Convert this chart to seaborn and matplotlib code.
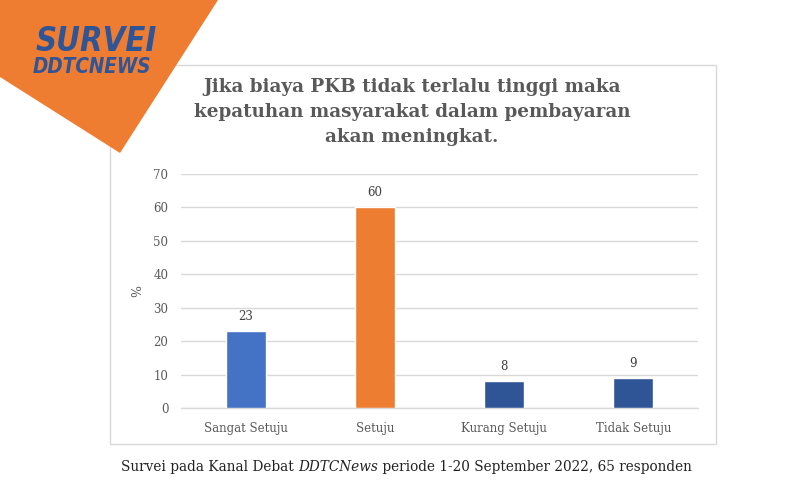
import matplotlib
matplotlib.use("Agg")
import matplotlib.pyplot as plt
import seaborn as sns
import pandas as pd
from matplotlib.patches import Polygon, Rectangle

categories = ["Sangat Setuju", "Setuju", "Kurang Setuju", "Tidak Setuju"]
values = [23, 60, 8, 9]
bar_colors = ["#4472C4", "#ED7D31", "#2F5597", "#2F5597"]
yticks = [0, 10, 20, 30, 40, 50, 60, 70]
title = "Jika biaya PKB tidak terlalu tinggi maka\nkepatuhan masyarakat dalam pembayaran\nakan meningkat."

sns.set_theme(style="white")
plt.rcParams['font.family'] = ['DejaVu Serif']

W, H = 802, 504
fig = plt.figure(figsize=(W / 100, H / 100), dpi=100)
fig.patch.set_facecolor("white")

def fx(x): return x / W
def fy(y): return 1 - y / H

# chart frame
frame = Rectangle((fx(110), fy(444)), fx(716) - fx(110), fy(65) - fy(444),
                  transform=fig.transFigure, facecolor="none",
                  edgecolor="#D9D9D9", linewidth=1, zorder=-1)
fig.patches.append(frame)

ax = fig.add_axes([fx(181), fy(408), fx(698) - fx(181), fy(174) - fy(408)])
ax.set_facecolor("none")
df = pd.DataFrame({"cat": categories, "val": values})
sns.barplot(data=df, x="cat", y="val", hue="cat", palette=bar_colors,
            width=0.31, legend=False, ax=ax, saturation=1, zorder=3)
ax.set_ylim(0, 70)
ax.set_yticks(yticks)
ax.set_xlim(-0.5, 3.5)
ax.yaxis.grid(True, color="#D9D9D9", linewidth=1, zorder=0)
ax.axhline(0, color="#D9D9D9", linewidth=1, clip_on=False, zorder=1)
ax.set_axisbelow(True)
for s in ax.spines.values():
    s.set_visible(False)
ax.tick_params(axis="both", length=0, colors="#595959", labelsize=8.5)
ax.tick_params(axis="y", pad=9)
ax.tick_params(axis="x", pad=10)
ax.set_xlabel("")
ax.set_ylabel("%", color="#595959", fontsize=9, labelpad=7)
for i, v in enumerate(values):
    ax.annotate(str(v), (i, v), xytext=(0, 6), textcoords="offset points",
                ha="center", va="bottom", fontsize=8.5, color="#404040")

fig.text(fx(412), fy(78), title, ha="center", va="top", fontsize=13.2,
         fontweight="bold", color="#595959", linespacing=1.5)

# orange corner
fig.patches.append(Polygon([(fx(0), fy(0)), (fx(218), fy(0)), (fx(120), fy(153)), (fx(0), fy(77))],
                           closed=True, transform=fig.transFigure, facecolor="#EE7D31",
                           edgecolor="none", zorder=5))
fig.text(fx(36), fy(51), "SURVEI", fontsize=23.5, fontweight="bold", style="italic",
         color="#2F5597", family="DejaVu Sans", fontstretch="condensed",
         zorder=6, ha="left", va="baseline")
fig.text(fx(33), fy(73), "DDTCNEWS", fontsize=14.8, fontweight="bold", style="italic",
         color="#2F5597", family="DejaVu Sans", fontstretch="condensed",
         zorder=6, ha="left", va="baseline")

# footer
fs = 9.8
t1 = fig.text(fx(121), fy(471), "Survei pada Kanal Debat ", fontsize=fs, color="#222222",
              ha="left", va="baseline")
t2 = fig.text(0, 0, "DDTCNews", fontsize=fs, color="#222222", style="italic",
              ha="left", va="baseline")
t3 = fig.text(0, 0, " periode 1-20 September 2022, 65 responden", fontsize=fs,
              color="#222222", ha="left", va="baseline")
fig.canvas.draw()
r = fig.canvas.get_renderer()
bb1 = t1.get_window_extent(r)
t2.set_position((bb1.x1 / W, fy(471)))
fig.canvas.draw()
bb2 = t2.get_window_extent(r)
t3.set_position((bb2.x1 / W, fy(471)))

fig.savefig("out.png", dpi=100)
